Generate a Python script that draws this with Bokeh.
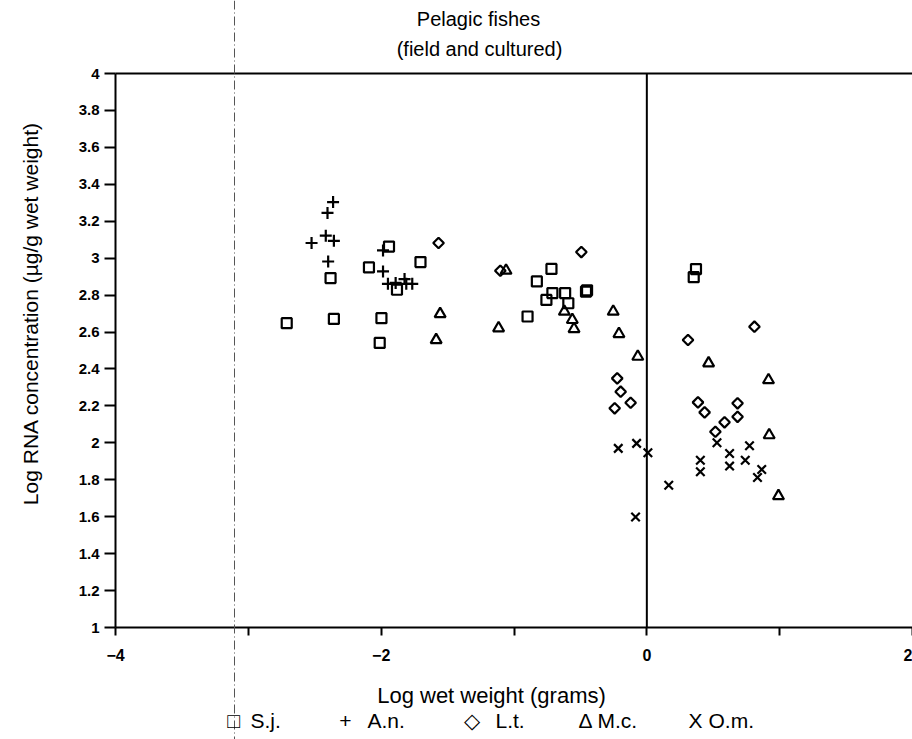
import math
from bokeh.plotting import figure
from bokeh.models import Label, Span, FixedTicker, LinearAxis
from bokeh.embed import file_html
from bokeh.resources import INLINE

# ---- data (log wet weight, log RNA concentration) ----
sj_x = [-2.381, -2.711, -2.356, -1.998, -2.011, -1.941, -2.092, -1.881, -1.704,
        -0.718, -0.828, -0.711, -0.756, -0.615, -0.591, -0.458, -0.450, -0.898,
        0.370, 0.353]
sj_y = [2.892, 2.648, 2.671, 2.675, 2.541, 3.063, 2.950, 2.829, 2.979,
        2.942, 2.874, 2.811, 2.774, 2.811, 2.756, 2.819, 2.826, 2.684,
        2.941, 2.897]

an_x = [-2.362, -2.404, -2.417, -2.356, -2.524, -2.399, -1.986, -1.986,
        -1.949, -1.891, -1.824, -1.811, -1.766]
an_y = [3.304, 3.245, 3.122, 3.094, 3.082, 2.982, 3.042, 2.928,
        2.861, 2.866, 2.887, 2.861, 2.861]

lt_x = [-1.568, -1.103, -0.493, 0.810, 0.310, -0.223, -0.197, -0.122, -0.242,
        0.385, 0.435, 0.683, 0.683, 0.585, 0.516]
lt_y = [3.082, 2.932, 3.033, 2.629, 2.557, 2.349, 2.277, 2.217, 2.187,
        2.219, 2.165, 2.214, 2.141, 2.111, 2.060]

mc_x = [-1.060, -1.556, -1.586, -1.116, -0.621, -0.561, -0.548, -0.253, -0.210,
        -0.068, 0.465, 0.916, 0.921, 0.991]
mc_y = [2.933, 2.698, 2.557, 2.621, 2.711, 2.666, 2.617, 2.711, 2.590,
        2.467, 2.431, 2.340, 2.042, 1.712]

om_x = [-0.215, -0.077, 0.008, 0.165, -0.085, 0.528, 0.403, 0.403, 0.623, 0.623,
        0.773, 0.741, 0.865, 0.833]
om_y = [1.970, 1.997, 1.946, 1.770, 1.598, 2.000, 1.906, 1.843, 1.942, 1.874,
        1.984, 1.906, 1.856, 1.812]

species = ["S.j.", "A.n.", "L.t.", "M.c.", "O.m."]
legend_symbols = ["\u25a1", "+", "\u25c7", "\u0394", "X"]
x_major_ticks = [-4, -2, 0, 2]
x_minor_ticks = [-3, -1, 1]
x_tick_labels = {-4: "\u22124", -2: "\u22122", 0: "0", 2: "2"}
y_ticks = [1, 1.2, 1.4, 1.6, 1.8, 2, 2.2, 2.4, 2.6, 2.8, 3, 3.2, 3.4, 3.6, 3.8, 4]
y_tick_labels = {1: "1", 1.2: "1.2", 1.4: "1.4", 1.6: "1.6", 1.8: "1.8", 2: "2",
                 2.2: "2.2", 2.4: "2.4", 2.6: "2.6", 2.8: "2.8", 3: "3", 3.2: "3.2",
                 3.4: "3.4", 3.6: "3.6", 3.8: "3.8", 4: "4"}
title_lines = ["Pelagic fishes", "(field and cultured)"]
x_title = "Log wet weight (grams)"
y_title = "Log RNA concentration (\u00b5g/g wet weight)"
x_lo, x_hi = -4, 2
y_lo, y_hi = 1, 4

# ---- layout: the frame fills the whole canvas; axes are pinned at x=-4 / y=1 ----
W, H = 912, 739
AX_L, AX_R, AX_T, AX_B = 115, 912, 73, 627     # pixel box of the axes
PX_X = (AX_R - AX_L) / (x_hi - x_lo)
PX_Y = (AX_B - AX_T) / (y_hi - y_lo)

def dx(px):
    return x_lo + (px - AX_L) / PX_X

def dy(py):
    return y_lo + (AX_B - py) / PX_Y

FONT = "Liberation Sans"

p = figure(width=W, height=H, x_range=(dx(0), dx(W)), y_range=(dy(H), dy(0)),
           output_backend="svg", toolbar_location=None, x_axis_location=None,
           y_axis_location=None, min_border=0)
p.outline_line_color = None
p.grid.visible = False
p.background_fill_color = "white"
p.border_fill_color = "white"
if p.title is not None:
    p.title.visible = False

xaxis = LinearAxis(fixed_location=y_lo, bounds=(x_lo, x_hi))
yaxis = LinearAxis(fixed_location=x_lo, bounds=(y_lo, y_hi))
topaxis = LinearAxis(fixed_location=y_hi, bounds=(x_lo, x_hi))
p.add_layout(xaxis, "below")
p.add_layout(yaxis, "left")
p.add_layout(topaxis, "above")

for ax in (xaxis, yaxis, topaxis):
    ax.axis_line_width = 2
    ax.axis_line_color = "black"
    ax.major_tick_line_width = 2
    ax.major_tick_line_color = "black"
    ax.major_tick_in = 0
    ax.minor_tick_line_color = None
    ax.major_label_text_font = FONT
    ax.major_label_text_font_style = "bold"
    ax.major_label_text_color = "black"

topaxis.ticker = FixedTicker(ticks=[], minor_ticks=[])
topaxis.major_tick_line_color = None

xaxis.ticker = FixedTicker(ticks=x_major_ticks, minor_ticks=x_minor_ticks)
xaxis.major_label_overrides = x_tick_labels
xaxis.major_tick_out = 8
xaxis.minor_tick_line_color = "black"
xaxis.minor_tick_line_width = 2
xaxis.minor_tick_in = 0
xaxis.minor_tick_out = 8
xaxis.major_label_standoff = 13
xaxis.major_label_text_font_size = "16px"

yaxis.ticker = FixedTicker(ticks=y_ticks, minor_ticks=[])
yaxis.major_label_overrides = y_tick_labels
yaxis.major_tick_out = 11
yaxis.major_label_standoff = 5
yaxis.major_label_text_font_size = "15px"

# vertical line at x = 0 and the thin dash-dot rule
p.segment(x0=[0], y0=[y_lo], x1=[0], y1=[y_hi], line_color="black", line_width=2)
p.add_layout(Span(location=dx(234), dimension="height", line_color="#555555",
                  line_width=1, line_dash="9 3 1 3"))

# markers
sty = dict(fill_color=None, line_color="black", line_width=2.2)
p.scatter(sj_x, sj_y, marker="square", size=10, **sty)
p.scatter(an_x, an_y, marker="cross", size=12, **sty)
p.scatter(lt_x, lt_y, marker="square", angle=math.pi / 4, size=7.5, **sty)
p.scatter(mc_x, mc_y, marker="triangle", size=11, **sty)
p.scatter(om_x, om_y, marker="x", size=12, **sty)

def lab(text, px, py, size, align="center", angle=0.0):
    p.add_layout(Label(x=dx(px), y=dy(py), text=text, text_font=FONT,
                       text_font_size=size, text_align=align, text_baseline="middle",
                       angle=angle, text_color="black"))

lab(title_lines[0], 478, 18, "20px")
lab(title_lines[1], 479, 48, "20px")
lab(x_title, 491, 695, "22px")
lab(y_title, 30, 313, "21px", angle=math.pi / 2)

sym_x = [233, 345, 471, 585, 695]
txt_x = [250, 367, 495, 597, 708]
for s, name, sx, tx in zip(legend_symbols, species, sym_x, txt_x):
    lab(s, sx, 720, "21px")
    lab(name, tx, 720, "21px", align="left")

open("out.html", "w").write(file_html(p, INLINE))
